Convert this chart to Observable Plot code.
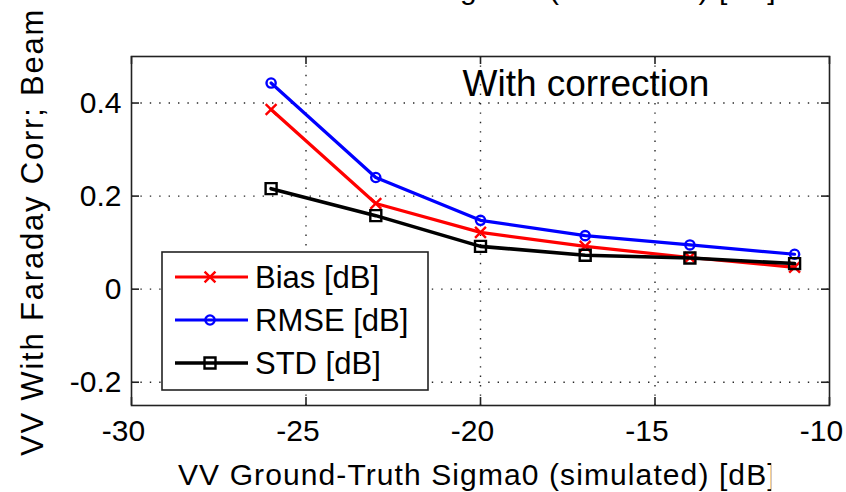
<!DOCTYPE html>
<html><head><meta charset="utf-8">
<script src="https://cdn.jsdelivr.net/npm/d3@7"></script>
<script src="https://cdn.jsdelivr.net/npm/@observablehq/plot@0.6"></script>
<style>
html,body{margin:0;padding:0;background:#fff;}
#wrap{position:relative;width:846px;height:492px;overflow:hidden;font-family:"Liberation Sans",Arial,Helvetica,sans-serif;}
#overlay{position:absolute;left:0;top:0;pointer-events:none;}
</style></head><body><div id="wrap"></div>
<script>
// ---- data ----
const sigma0 = [-26, -23, -20, -17, -14, -11];
const bias = [0.386, 0.184, 0.122, 0.092, 0.068, 0.047];
const rmse = [0.443, 0.240, 0.148, 0.115, 0.095, 0.075];
const std  = [0.216, 0.158, 0.092, 0.073, 0.067, 0.055];
const seriesNames = ["Bias [dB]", "RMSE [dB]", "STD [dB]"];
const seriesColors = ["#ff0000", "#0000ff", "#000000"];
const seriesSymbols = ["times", "circle", "square"];
const xTicks = [-30, -25, -20, -15, -10];
const xTickLabels = ["-30", "-25", "-20", "-15", "-10"];
const yTicks = [-0.2, 0, 0.2, 0.4];
const yTickLabels = ["-0.2", "0", "0.2", "0.4"];
const xLabel = "VV Ground-Truth Sigma0 (simulated) [dB]";
const yLabel = "VV With Faraday Corr; Beam 3";
const annotation = "With correction";

const FONT = '"Liberation Sans", Arial, Helvetica, sans-serif';
const W = 846, H = 492;
const mL = 131, mR = 17, mT = 56, mB = 87;
const innerW = W - mL - mR, innerH = H - mT - mB;
const tickLen = 8;
const markerR = {times: 5, circle: 4.6, square: 6.2};
const lineW = [3.2, 3.2, 3.6];

const values = [bias, rmse, std];
const rows = seriesNames.flatMap((name, s) => sigma0.map((x, i) => ({x, y: values[s][i], series: name})));

const seriesMarks = seriesNames.flatMap((name, s) => {
  const d = rows.filter(r => r.series === name);
  return [
    Plot.line(d, {x: "x", y: "y", stroke: seriesColors[s], strokeWidth: lineW[s]}),
    Plot.dot(d, {x: "x", y: "y", stroke: seriesColors[s], fill: "none", strokeWidth: 2.4,
                 symbol: seriesSymbols[s], r: markerR[seriesSymbols[s]]})
  ];
});

const chart = Plot.plot({
  width: W, height: H,
  marginLeft: mL, marginRight: mR, marginTop: mT, marginBottom: mB,
  style: {fontFamily: FONT, background: "#fff", color: "#000", overflow: "visible"},
  x: {domain: [-30, -10]},
  y: {domain: [-0.25, 0.5]},
  marks: [
    Plot.gridX({ticks: xTicks.slice(1, -1), stroke: "#000", strokeOpacity: 0.85, strokeWidth: 1.4, strokeDasharray: "1.4,8"}),
    Plot.gridY({ticks: yTicks, stroke: "#000", strokeOpacity: 0.85, strokeWidth: 1.4, strokeDasharray: "1.4,8"}),
    Plot.tickX(xTicks, {x: d => d, insetTop: innerH - tickLen, stroke: "#222", strokeWidth: 1.6}),
    Plot.tickX(xTicks, {x: d => d, insetBottom: innerH - tickLen, stroke: "#222", strokeWidth: 1.6}),
    Plot.tickY(yTicks, {y: d => d, insetLeft: innerW - tickLen, stroke: "#222", strokeWidth: 1.6}),
    Plot.tickY(yTicks, {y: d => d, insetRight: innerW - tickLen, stroke: "#222", strokeWidth: 1.6}),
    Plot.axisX({ticks: xTicks, tickSize: 0, tickPadding: 14, fontSize: 30, label: null, dx: -8,
                tickFormat: d => xTickLabels[xTicks.indexOf(d)]}),
    Plot.axisY({ticks: yTicks, tickSize: 0, tickPadding: 10, fontSize: 30, label: null,
                tickFormat: d => yTickLabels[yTicks.indexOf(d)]}),
    Plot.frame({stroke: "#222", strokeWidth: 1.6}),
    Plot.text([annotation], {text: d => d, frameAnchor: "top-left", dx: 331, dy: 39,
                             textAnchor: "start", lineAnchor: "bottom", fontSize: 37, fill: "#000"}),
    ...seriesMarks
  ]
});
const wrap = document.getElementById("wrap");
wrap.appendChild(chart);

// ---- overlay: axis titles, cropped title above, legend ----
const ov = d3.select(wrap).append("svg").attr("id", "overlay")
  .attr("width", W).attr("height", H).attr("font-family", FONT);

// cropped label of the panel above (only descenders visible, as in the reference)
ov.append("text").attr("x", 178).attr("y", -1.5).attr("font-size", 30)
  .attr("letter-spacing", 1.1).attr("fill", "#000").text(xLabel);

// x axis title, right end cropped as in the reference
const xl = ov.append("text").attr("x", 178).attr("y", 485).attr("font-size", 30)
  .attr("letter-spacing", 1.1).attr("fill", "#000").text(xLabel);
const lastX = xl.node().getStartPositionOfChar(xLabel.length - 1).x;
ov.append("clipPath").attr("id", "xclip").append("rect")
  .attr("x", 0).attr("y", 0).attr("width", lastX + 4).attr("height", H);
xl.attr("clip-path", "url(#xclip)");

// y axis title
ov.append("text").attr("transform", "translate(43,456) rotate(-90)")
  .attr("font-size", 31).attr("letter-spacing", 1.8).attr("fill", "#000").text(yLabel);

// legend
const lg = ov.append("g").attr("transform", "translate(162,252)");
lg.append("rect").attr("width", 266).attr("height", 138).attr("fill", "#fff")
  .attr("stroke", "#222").attr("stroke-width", 1.6);
const rowY = [25, 68, 111];
const d3sym = {times: d3.symbolTimes, circle: d3.symbolCircle, square: d3.symbolSquare};
seriesNames.forEach((name, s) => {
  const g = lg.append("g").attr("transform", `translate(0,${rowY[s]})`);
  g.append("line").attr("x1", 13).attr("x2", 86).attr("y1", 0).attr("y2", 0)
    .attr("stroke", seriesColors[s]).attr("stroke-width", lineW[s]);
  const r = markerR[seriesSymbols[s]];
  g.append("path").attr("transform", "translate(48,0)")
    .attr("d", d3.symbol(d3sym[seriesSymbols[s]], Math.PI * r * r)())
    .attr("fill", "none").attr("stroke", seriesColors[s]).attr("stroke-width", 2.4);
  g.append("text").attr("x", 93).attr("y", 10.5).attr("font-size", 31).attr("fill", "#000").text(name);
});
</script>
</body></html>
